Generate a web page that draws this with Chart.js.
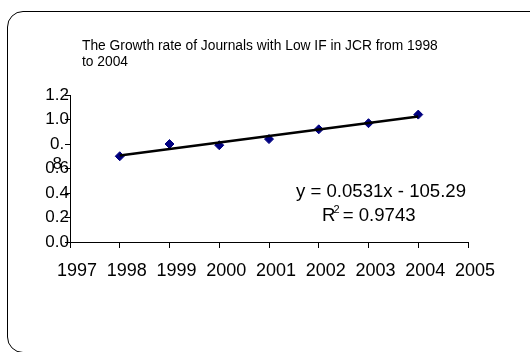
<!DOCTYPE html>
<html>
<head>
<meta charset="utf-8">
<script src="https://cdn.jsdelivr.net/npm/chart.js@4.4.1/dist/chart.umd.min.js"></script>
<style>
  html, body { margin: 0; padding: 0; background: #fff; overflow: hidden; }
  #frame { position: absolute; left: 7px; top: 11px; width: 540px; height: 340px;
           border: 1.5px solid #000; border-radius: 16px; }
  #wrap { position: absolute; left: 0; top: 0; width: 530px; height: 352px; }
</style>
</head>
<body>
<div id="frame"></div>
<div id="wrap"><canvas id="chart" width="530" height="352"></canvas></div>
<script>
// data
const years = [1998, 1999, 2000, 2001, 2002, 2003, 2004];
const growth = [0.70, 0.80, 0.79, 0.84, 0.92, 0.97, 1.04];

const xTicks = [1997, 1998, 1999, 2000, 2001, 2002, 2003, 2004, 2005];
const yTicks = [0, 0.2, 0.4, 0.6, 0.8, 1.0, 1.2];
// the 0.8 label is wrapped in the original
const yTickLabels = ['0.0', '0.2', '0.4', '0.6', ['', '0.', '8'], '1.0', '1.2'];

const titleLines = ['The Growth rate of Journals with Low IF in JCR from 1998', 'to 2004'];
const equation = 'y = 0.0531x - 105.29';
const rSquared = '0.9743';

// least squares trend through the points
const n = years.length;
const mx = years.reduce((a, b) => a + b, 0) / n;
const my = growth.reduce((a, b) => a + b, 0) / n;
let sxy = 0, sxx = 0;
years.forEach((x, i) => { sxy += (x - mx) * (growth[i] - my); sxx += (x - mx) * (x - mx); });
const slope = sxy / sxx;
const trend = [years[0], years[n - 1]].map(x => ({ x: x, y: my + slope * (x - mx) }));

const FONT = '"Liberation Sans", Arial, sans-serif';

const textPlugin = {
    id: 'texts',
    afterDraw(chart) {
        const c = chart.ctx;
        c.save();
        c.fillStyle = '#000';
        c.textBaseline = 'alphabetic';
        c.textAlign = 'left';

        // title
        c.font = '13.8px ' + FONT;
        titleLines.forEach((t, i) => c.fillText(t, 82, 50 + i * 16));

        // trendline label
        c.font = '18.6px ' + FONT;
        c.fillText(equation, 296, 197);
        let x = 322;
        c.fillText('R', x, 221);
        x += c.measureText('R').width - 2;
        c.font = '11px ' + FONT;
        c.fillText('2', x, 213);
        x += c.measureText('2').width;
        c.font = '18.6px ' + FONT;
        c.fillText(' = ' + rSquared, x - 2, 221);
        c.restore();
    }
};

new Chart(document.getElementById('chart'), {
    type: 'scatter',
    data: {
        datasets: [
            {
                label: 'Trend',
                data: trend,
                showLine: true,
                borderColor: '#000',
                borderWidth: 2.5,
                pointRadius: 0,
                order: 0
            },
            {
                label: 'Growth rate',
                data: years.map((y, i) => ({ x: y, y: growth[i] })),
                showLine: false,
                pointStyle: 'rectRot',
                pointRadius: 4.5,
                backgroundColor: '#000080',
                borderColor: '#000080',
                order: 1
            }
        ]
    },
    options: {
        responsive: false,
        animation: false,
        layout: { padding: { left: 0, top: 95, right: 62, bottom: 70 } },
        plugins: {
            legend: { display: false },
            tooltip: { enabled: false },
            title: { display: false }
        },
        scales: {
            x: {
                type: 'linear',
                min: 1997,
                max: 2005,
                afterBuildTicks: (s) => { s.ticks = xTicks.map(v => ({ value: v })); },
                afterFit: (s) => { s.height = 40; },
                grid: { drawOnChartArea: false, tickLength: 6, color: '#000' },
                border: { color: '#000', width: 1 },
                ticks: {
                    color: '#000',
                    font: { family: FONT, size: 18 },
                    padding: 12,
                    labelOffset: 7,
                    maxRotation: 0,
                    autoSkip: false,
                    callback: (v) => String(v)
                }
            },
            y: {
                min: 0,
                max: 1.2,
                afterBuildTicks: (s) => { s.ticks = yTicks.map(v => ({ value: v })); },
                afterFit: (s) => { s.width = 70; },
                grid: { drawOnChartArea: false, tickLength: 5, color: '#000' },
                border: { color: '#000', width: 1 },
                ticks: {
                    color: '#000',
                    font: { family: FONT, size: 17, lineHeight: 1.2 },
                    padding: -4,
                    crossAlign: 'center',
                    autoSkip: false,
                    callback: (v, i) => yTickLabels[i]
                }
            }
        }
    },
    plugins: [textPlugin]
});
</script>
</body>
</html>
